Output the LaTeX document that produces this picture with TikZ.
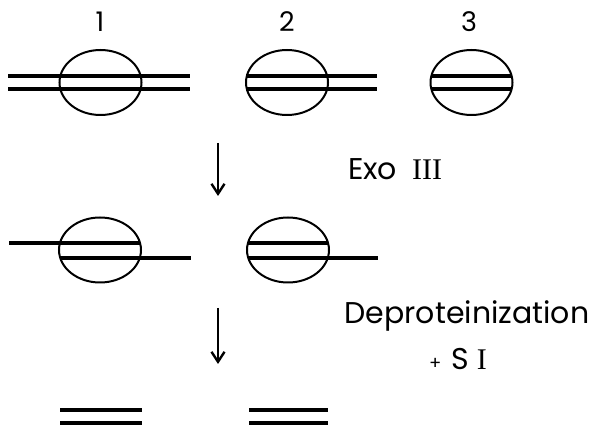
\documentclass[tikz,border=0pt]{standalone}
\usepackage{fontspec}
\setmainfont{Poppins}
\newfontfamily\romfont{Liberation Serif}
\usetikzlibrary{shapes.geometric,arrows.meta}
\begin{document}
\begin{tikzpicture}[x=1pt,y=-1pt,
  prot/.style={draw,ellipse,line width=2pt,minimum width=82pt,minimum height=65pt,inner sep=0pt},
  dna/.style={line width=4pt},
  lbl/.style={inner sep=0pt,font=\fontsize{27}{30}\selectfont},
  cond/.style={inner sep=0pt,font=\fontsize{30}{34}\selectfont},
  stepar/.style={line width=2.4pt,-{Straight Barb[length=10pt,width=13pt,line width=2.4pt]}}]
\useasboundingbox (0,0) rectangle (595,430);
% labels
\node[lbl] (l1) at (100,22) {1};
\node[lbl] (l2) at (287,22) {2};
\node[lbl] (l3) at (469,22) {3};
% row 1
\node[prot] (e1) at (100.5,82.5) {};
\node[prot] (e2) at (287,82.5) {};
\node[prot] (e3) at (471.5,82.5) {};
\coordinate (a1) at (8,76); \coordinate (b1) at (190,76);
\coordinate (a2) at (8,89); \coordinate (b2) at (190,89);
\draw[dna] (a1) -- (b1); \draw[dna] (a2) -- (b2);
\coordinate (c1) at (246,76); \coordinate (d1) at (377,76);
\coordinate (c2) at (246,89); \coordinate (d2) at (377,89);
\draw[dna] (c1) -- (d1); \draw[dna] (c2) -- (d2);
\coordinate (f1) at (431,76); \coordinate (g1) at (512,76);
\coordinate (f2) at (431,89); \coordinate (g2) at (512,89);
\draw[dna] (f1) -- (g1); \draw[dna] (f2) -- (g2);
% arrow 1
\coordinate (ar1s) at (218,143); \coordinate (ar1e) at (218,196);
\draw[stepar] (ar1s) -- (ar1e);
\node[cond,anchor=base west] (exo) at (348,180) {Exo\hspace{0.5em}{\romfont III}};
% row 2
\node[prot] (e4) at (100,250) {};
\node[prot] (e5) at (288,250) {};
\coordinate (h1) at (9,243); \coordinate (i1) at (140,243);
\coordinate (h2) at (60,258); \coordinate (i2) at (191,258);
\draw[dna] (h1) -- (i1); \draw[dna] (h2) -- (i2);
\coordinate (j1) at (248,243); \coordinate (k1) at (328,243);
\coordinate (j2) at (248,258); \coordinate (k2) at (378,258);
\draw[dna] (j1) -- (k1); \draw[dna] (j2) -- (k2);
% arrow 2
\coordinate (ar2s) at (218,308); \coordinate (ar2e) at (218,364);
\draw[stepar] (ar2s) -- (ar2e);
\node[cond] (dep) at (467,316) {Deproteinization};
\node[cond] (si) at (458,359) {{\fontsize{18}{20}\selectfont +}\hspace{0.35em}S\hspace{0.25em}{\romfont I}};
% row 3
\coordinate (m1) at (60,410); \coordinate (n1) at (142,410);
\coordinate (m2) at (60,423); \coordinate (n2) at (142,423);
\draw[dna] (m1) -- (n1); \draw[dna] (m2) -- (n2);
\coordinate (o1) at (249,410); \coordinate (p1) at (328,410);
\coordinate (o2) at (249,423); \coordinate (p2) at (328,423);
\draw[dna] (o1) -- (p1); \draw[dna] (o2) -- (p2);
\end{tikzpicture}
\end{document}
